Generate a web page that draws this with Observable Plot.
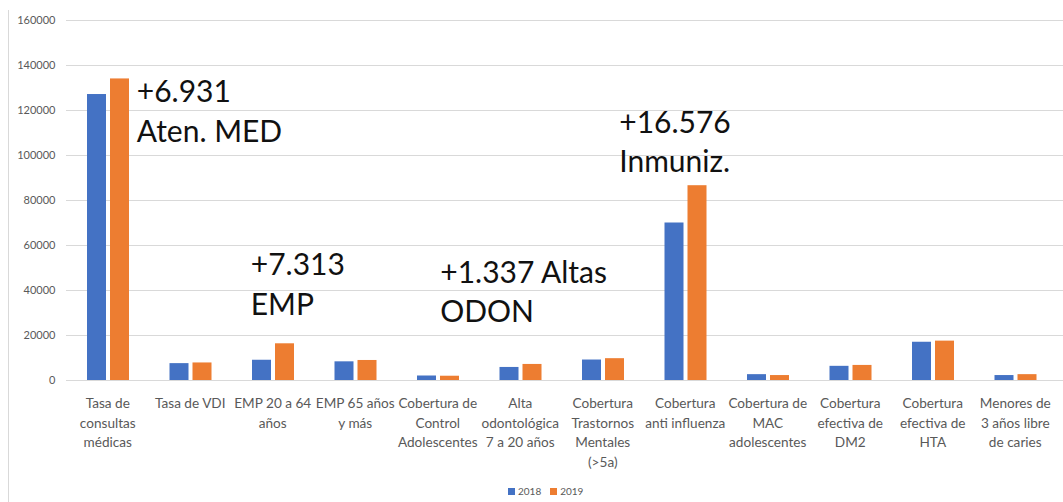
<!DOCTYPE html>
<html><head><meta charset="utf-8">
<script src="https://cdn.jsdelivr.net/npm/d3@7"></script>
<script src="https://cdn.jsdelivr.net/npm/@observablehq/plot@0.6"></script>
<style>
body{margin:0;background:#fff;font-family:Lato,sans-serif;}
#wrap{position:relative;width:1063px;height:502px;overflow:hidden;background:#fff}
#frame{position:absolute;left:8px;top:10px;width:1px;height:492px;background:#d9d9d9}
#chart{position:absolute;left:0;top:0}
#legend{position:absolute;top:485px;left:508px;display:flex;align-items:center;font-size:10px;color:#595959;font-family:Lato,sans-serif}
#legend .sw{width:7px;height:7px;display:inline-block;margin-right:3px}
#legend .it{display:flex;align-items:center;margin-right:9px}
</style></head>
<body><div id="wrap"><div id="frame"></div><div id="chart"></div><div id="legend"></div></div>
<script>
const categories = ["Tasa de consultas médicas","Tasa de VDI","EMP 20 a 64 años","EMP 65 años y más","Cobertura de Control Adolescentes","Alta odontológica 7 a 20 años","Cobertura Trastornos Mentales (>5a)","Cobertura anti influenza","Cobertura de MAC adolescentes","Cobertura efectiva de DM2","Cobertura efectiva de HTA","Menores de 3 años libre de caries"];
const xTickLabels = ["Tasa de\nconsultas\nmédicas","Tasa de VDI","EMP 20 a 64\naños","EMP 65 años\ny más","Cobertura de\nControl\nAdolescentes","Alta\nodontológica\n7 a 20 años","Cobertura\nTrastornos\nMentales\n(>5a)","Cobertura\nanti influenza","Cobertura de\nMAC\nadolescentes","Cobertura\nefectiva de\nDM2","Cobertura\nefectiva de\nHTA","Menores de\n3 años libre\nde caries"];
const values2018 = [127100, 7500, 9000, 8300, 2000, 5800, 9100, 70000, 2600, 6300, 17000, 2200];
const values2019 = [134031, 7800, 16313, 8900, 1900, 7137, 9700, 86576, 2200, 6700, 17500, 2600];
const yTicks = [0, 20000, 40000, 60000, 80000, 100000, 120000, 140000, 160000];
const seriesNames = ["2018", "2019"];
const seriesColors = ["#4472C4", "#ED7D31"];
const annotationCategories = ["Tasa de consultas médicas","EMP 20 a 64 años","Alta odontológica 7 a 20 años","Cobertura anti influenza"];
const annotationTexts = ["+6.931\nAten. MED","+7.313\nEMP","+1.337 Altas\nODON","+16.576\nInmuniz."];

const rows = categories.map((c, i) => ({category: c, v2018: values2018[i], v2019: values2019[i]}));
const noteOffsets = [[29, 63], [-22, -29], [-80, -42], [-66, -13.5]];
const noteMarks = annotationCategories.map((c, k) => {
  const r = rows.find(d => d.category === c);
  return Plot.text([r], {x: "category", y: "v2019", text: () => annotationTexts[k], textAnchor: "start", lineAnchor: "bottom", lineHeight: 1.32, fontSize: 30, fill: "#111", dx: noteOffsets[k][0], dy: noteOffsets[k][1]});
});

const chart = Plot.plot({
  width: 1063, height: 478,
  marginLeft: 66, marginRight: 0, marginTop: 20, marginBottom: 98,
  x: {domain: categories, range: [66, 1056], padding: 0, round: false},
  y: {domain: [0, 160000]},
  style: {fontFamily: "Lato, sans-serif", background: "transparent", overflow: "visible"},
  marks: [
    Plot.ruleY(yTicks, {stroke: "#d9d9d9", strokeWidth: 1}),
    Plot.barY(rows, {x: "category", y: "v2018", fill: seriesColors[0], insetLeft: 21, insetRight: 42.5}),
    Plot.barY(rows, {x: "category", y: "v2019", fill: seriesColors[1], insetLeft: 44, insetRight: 19.5}),
    Plot.axisY({ticks: yTicks, tickSize: 0, tickPadding: 11, tickFormat: d => String(d), fontSize: 11, fill: "#595959", label: null}),
    Plot.axisX({tickSize: 0, tickPadding: 13.8, lineHeight: 1.44, fontSize: 13.6, fill: "#595959", label: null, tickFormat: d => xTickLabels[categories.indexOf(d)]}),
    ...noteMarks
  ]
});
document.getElementById("chart").appendChild(chart);

const legend = document.getElementById("legend");
seriesNames.forEach((s, i) => {
  const it = document.createElement("span"); it.className = "it";
  const sw = document.createElement("span"); sw.className = "sw"; sw.style.background = seriesColors[i];
  it.appendChild(sw); it.appendChild(document.createTextNode(s));
  legend.appendChild(it);
});
</script>
</body></html>
